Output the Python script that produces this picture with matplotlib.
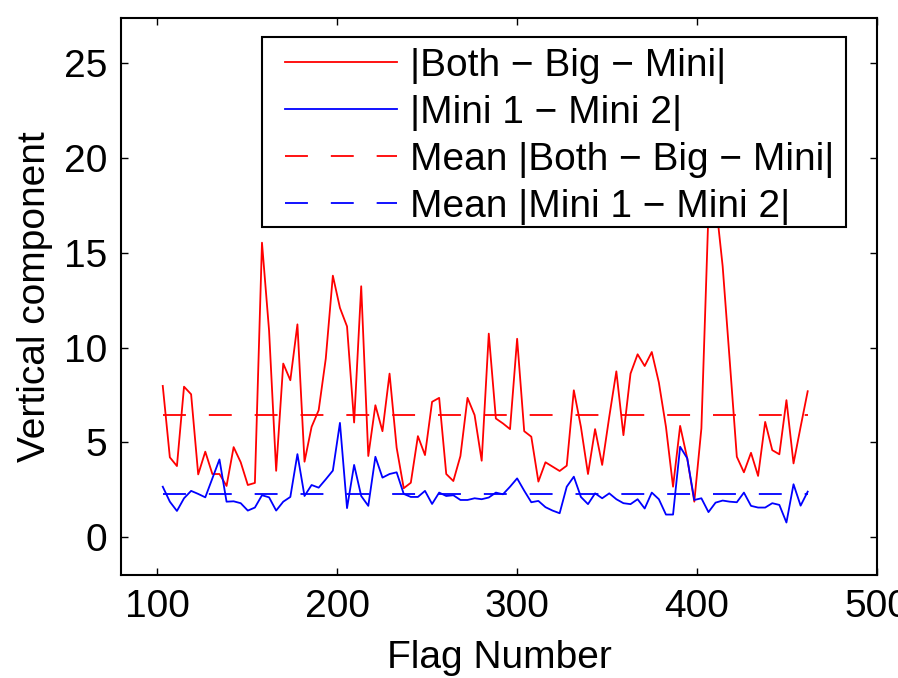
import numpy as np
import matplotlib
matplotlib.use("Agg")
import matplotlib.pyplot as plt
from matplotlib.patches import Rectangle

plt.rcParams['font.family'] = ['Liberation Sans', 'DejaVu Sans']

# Flag numbers (evenly spaced run of flags)
flags = np.linspace(103.2, 461.5, 92)

# |Both - Big - Mini| vertical component
both_big_mini = [
    7.98, 4.21, 3.75, 7.94, 7.54, 3.31, 4.51, 3.33, 3.33, 2.70,
    4.75, 3.95, 2.75, 2.86, 15.54, 10.9, 3.50, 9.16, 8.28, 11.23,
    3.98, 5.82, 6.70, 9.42, 13.8, 12.1, 11.12, 6.05, 13.24, 4.28,
    6.96, 5.59, 8.63, 4.72, 2.58, 2.87, 5.33, 4.33, 7.14, 7.35,
    3.33, 2.96, 4.28, 7.35, 6.44, 4.03, 10.74, 6.26, 6.00, 5.70,
    10.47, 5.59, 5.30, 2.93, 3.95, 3.72, 3.49, 3.77, 7.75, 5.82,
    3.33, 5.70, 3.81, 6.35, 8.75, 5.38, 8.63, 9.65, 9.03, 9.77,
    8.16, 5.82, 2.66, 5.87, 4.16, 1.87, 5.74, 17.2, 17.8, 14.3,
    9.30, 4.24, 3.42, 4.45, 3.23, 6.08, 4.59, 4.37, 7.23, 3.89,
    5.82, 7.70,
]

# |Mini 1 - Mini 2| vertical component
mini1_mini2 = [
    2.66, 1.87, 1.38, 2.05, 2.44, 2.28, 2.10, 3.10, 4.10, 1.87,
    1.89, 1.79, 1.40, 1.56, 2.21, 2.10, 1.40, 1.87, 2.12, 4.38,
    2.17, 2.75, 2.61, 3.05, 3.51, 6.03, 1.53, 3.81, 2.17, 1.65,
    4.24, 3.14, 3.33, 3.42, 2.28, 2.12, 2.12, 2.44, 1.75, 2.35,
    2.17, 2.21, 1.96, 1.96, 2.05, 2.00, 2.09, 2.35, 2.26, 2.66,
    3.10, 2.45, 1.84, 1.91, 1.58, 1.40, 1.26, 2.66, 3.19, 2.12,
    1.74, 2.31, 2.05, 2.31, 2.00, 1.79, 1.74, 2.00, 1.51, 2.35,
    2.00, 1.19, 1.19, 4.77, 4.16, 1.96, 2.05, 1.32, 1.82, 1.93,
    1.87, 1.84, 2.35, 1.65, 1.56, 1.56, 1.79, 1.70, 0.77, 2.79,
    1.66, 2.40,
]

labels = ['|Both − Big − Mini|', '|Mini 1 − Mini 2|',
          'Mean |Both − Big − Mini|', 'Mean |Mini 1 − Mini 2|']

mean_big = np.mean(both_big_mini)
mean_mini = np.mean(mini1_mini2)

lw = 1.3
dash = (16.5 / lw, 16.5 / lw)

fig = plt.figure(figsize=(8.98, 6.78), dpi=100)
ax = fig.add_axes([121 / 898, 103 / 678, 756 / 898, 557 / 678])

ax.plot(flags, both_big_mini, color='#ff0000', lw=lw, label=labels[0])
ax.plot(flags, mini1_mini2, color='#0000ff', lw=lw, label=labels[1])
ax.plot(flags, np.full(len(flags), mean_big), color='#ff0000', lw=lw,
        dashes=dash, label=labels[2])
ax.plot(flags, np.full(len(flags), mean_mini), color='#0000ff', lw=lw,
        dashes=dash, label=labels[3])

ax.set_xlim(80, 500)
ax.set_ylim(-2, 27.4)
ax.set_xticks([100, 200, 300, 400, 500])
ax.set_yticks([0, 5, 10, 15, 20, 25])

for s in ax.spines.values():
    s.set_linewidth(1.5)
ax.tick_params(direction='in', length=5, width=1.0, top=True, right=True,
               labelsize=28, pad=10)

ax.set_xlabel('Flag Number', fontsize=28, labelpad=11)
ax.set_ylabel('Vertical component', fontsize=28, labelpad=8)

# legend box drawn separately so the padding can differ per side
box = Rectangle((0.1865, 0.625), 0.959 - 0.1865, 0.966 - 0.625,
                transform=ax.transAxes, facecolor='white', edgecolor='black',
                lw=1.5, zorder=4)
ax.add_patch(box)

leg = ax.legend(loc='upper left', bbox_to_anchor=(0.2169, 0.946),
                borderaxespad=0, borderpad=0, fontsize=28, frameon=False,
                handlelength=2.88, handletextpad=0.33, labelspacing=0.283)
leg.set_zorder(5)

fig.savefig('out.png', dpi=100)
